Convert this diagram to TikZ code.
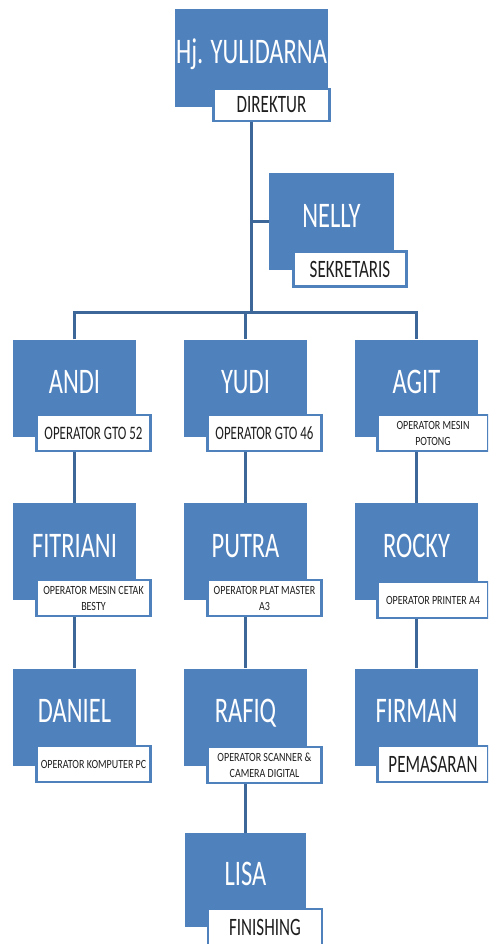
\documentclass[tikz,border=0pt]{standalone}
\usepackage{fontspec}
\setmainfont{Carlito}
\newfontfamily\namefont[FakeStretch=0.68]{Carlito}
\newfontfamily\tinyfont[FakeStretch=0.8]{Carlito}
\definecolor{boxblue}{HTML}{4F81BD}
\definecolor{linkblue}{HTML}{3D6799}
\tikzset{
  person/.style={fill=boxblue, text=white, inner sep=0pt, minimum width=123pt, minimum height=97pt,
    font=\namefont\fontsize{36}{40}\selectfont, text height=23pt, text depth=12pt},
  post/.style={draw=boxblue, line width=2.8pt, fill=white, text=black!88, inner sep=0pt,
    minimum width=114pt, minimum height=36pt, font=\namefont\fontsize{25}{26}\selectfont},
  opsmall/.style={font=\namefont\fontsize{19}{20}\selectfont},
  optiny/.style={font=\tinyfont\fontsize{12.5}{16}\selectfont, align=center},
  link/.style={draw=linkblue, line width=3pt}
}
\begin{document}
\begin{tikzpicture}[x=1pt,y=1pt]
    \useasboundingbox (0,0) rectangle (488,-944);
    \clip (0,0) rectangle (488,-944);
    \fill [white] (0,0) rectangle (488,-944);
    \node [person, minimum width=153pt, minimum height=98pt] (dir) at (251.5,-58) {Hj. YULIDARNA};
    \node [post, minimum width=116pt, minimum height=32pt] (dirpost) at (271.5,-105) {DIREKTUR};
    \node [person, minimum width=125pt] (nelly) at (331.5,-221.5) {NELLY};
    \node [post, minimum width=113pt, minimum height=35pt] (nellypost) at (350,-269) {SEKRETARIS};
    \node [person] (andi) at (74.5,-388) {ANDI};
    \node [post, opsmall] (andipost) at (93.5,-433) {OPERATOR GTO 52};
    \node [person] (yudi) at (245.5,-388) {YUDI};
    \node [post, opsmall] (yudipost) at (264.5,-433) {OPERATOR GTO 46};
    \node [person] (agit) at (416.5,-388) {AGIT};
    \node [post, optiny, minimum width=111pt] (agitpost) at (433,-433) {OPERATOR MESIN\\POTONG};
    \node [person] (fitriani) at (74.5,-551.5) {FITRIANI};
    \node [post, optiny] (fitrianipost) at (93.5,-598) {OPERATOR MESIN CETAK\\BESTY};
    \node [person] (putra) at (245.5,-551.5) {PUTRA};
    \node [post, optiny] (putrapost) at (264.5,-598) {OPERATOR PLAT MASTER\\A3};
    \node [person] (rocky) at (416.5,-551.5) {ROCKY};
    \node [post, optiny, minimum width=111pt] (rockypost) at (433,-600) {OPERATOR PRINTER A4};
    \node [person] (daniel) at (74.5,-717) {DANIEL};
    \node [post, optiny] (danielpost) at (93.5,-764) {OPERATOR KOMPUTER PC};
    \node [person] (rafiq) at (245.5,-717) {RAFIQ};
    \node [post, optiny] (rafiqpost) at (264.5,-765) {OPERATOR SCANNER \&\\CAMERA DIGITAL};
    \node [person] (firman) at (416.5,-717) {FIRMAN};
    \node [post, minimum width=111pt] (firmanpost) at (433,-764) {PEMASARAN};
    \node [person, minimum width=121pt, minimum height=94pt] (lisa) at (245.5,-880) {LISA};
    \node [post] (lisapost) at (265,-927) {FINISHING};
    \coordinate (hub) at (251.5,-312);
    \draw [link] (dir.south |- dirpost.south) -- (hub);
    \draw [link] (hub |- nelly.west) -- (nelly.west);
    \draw [link] (andi.north) -- (andi.north |- hub) -- (agit.north |- hub) -- (agit.north);
    \draw [link] (yudi.north |- hub) -- (yudi.north);
    \draw [link] (andi.south |- andipost.south) -- (fitriani.north);
    \draw [link] (yudi.south |- yudipost.south) -- (putra.north);
    \draw [link] (agit.south |- agitpost.south) -- (rocky.north);
    \draw [link] (fitriani.south |- fitrianipost.south) -- (daniel.north);
    \draw [link] (putra.south |- putrapost.south) -- (rafiq.north);
    \draw [link] (rocky.south |- rockypost.south) -- (firman.north);
    \draw [link] (rafiq.south |- rafiqpost.south) -- (lisa.north);
\end{tikzpicture}
\end{document}
